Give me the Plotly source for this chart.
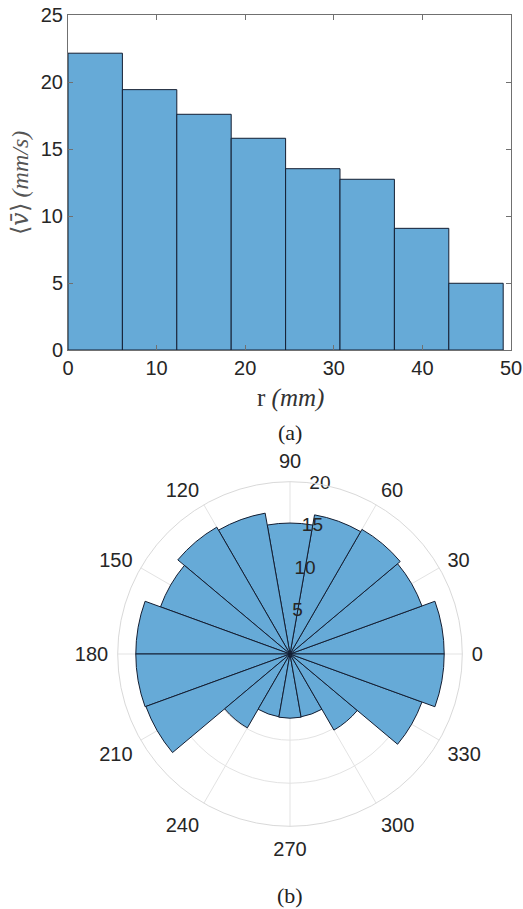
import plotly.graph_objects as go

# ---- data (a): radial profile of mean speed ----
r_bin_edges = [0, 6.14, 12.28, 18.42, 24.56, 30.70, 36.84, 42.98, 49.12]
v_mean = [22.15, 19.43, 17.59, 15.80, 13.53, 12.74, 9.08, 4.98]

# ---- data (b): polar histogram of mean speed vs direction ----
theta_centers = [10, 30, 50, 70, 90, 110, 130, 150, 170,
                 190, 210, 230, 250, 270, 290, 310, 330, 350]
v_dir = [17.9, 16.3, 16.7, 16.4, 15.2, 16.6, 17.0, 16.0, 17.9,
         17.9, 17.8, 9.9, 7.4, 7.45, 7.4, 10.2, 16.3, 17.9]
theta_bin_width = 20

x_ticks = [0, 10, 20, 30, 40, 50]
y_ticks = [0, 5, 10, 15, 20, 25]
ang_ticks = list(range(0, 360, 30))
r_ticks = [5, 10, 15, 20]
r_label_angle = 80

W, H = 523, 909
FACE = "rgb(102,170,215)"
EDGE = "rgb(20,30,50)"
TICKC = "#262626"
SANS = "Liberation Sans, Arial, sans-serif"
SERIF = "Liberation Serif, Times New Roman, serif"

centers = [(a + b) / 2 for a, b in zip(r_bin_edges[:-1], r_bin_edges[1:])]
widths = [b - a for a, b in zip(r_bin_edges[:-1], r_bin_edges[1:])]

fig = go.Figure()
fig.add_trace(go.Bar(
    x=centers, y=v_mean, width=widths,
    marker=dict(color=FACE, line=dict(color=EDGE, width=1)),
    xaxis="x", yaxis="y", showlegend=False, hoverinfo="skip",
))
fig.add_trace(go.Barpolar(
    r=v_dir, theta=theta_centers, width=[theta_bin_width] * len(v_dir),
    marker=dict(color=FACE, line=dict(color=EDGE, width=1)),
    subplot="polar", showlegend=False,
))
# radial tick labels, drawn as text at their radius along the 80 deg axis
fig.add_trace(go.Scatterpolar(
    r=r_ticks, theta=[r_label_angle] * len(r_ticks),
    text=[str(t) for t in r_ticks], mode="text",
    textfont=dict(family=SANS, size=19, color=TICKC),
    textposition="middle center",
    subplot="polar", showlegend=False, hoverinfo="skip", cliponaxis=False,
))

def px_x(p):
    return p / W

def px_y(p):
    return 1 - p / H

axis_common = dict(
    showline=True, linecolor="#707070", linewidth=1, mirror="ticks",
    ticks="inside", ticklen=5, tickcolor="#707070",
    showgrid=False, zeroline=False, automargin=False,
    tickfont=dict(family=SANS, size=20, color=TICKC),
)

def note(text, x, y, size, color, angle=0, family=SERIF):
    return dict(text=text, x=px_x(x), y=px_y(y), xref="paper", yref="paper",
                xanchor="center", yanchor="middle", textangle=angle,
                showarrow=False, font=dict(family=family, size=size, color=color))

fig.update_layout(
    width=W, height=H,
    margin=dict(l=0, r=0, t=0, b=0, autoexpand=False),
    paper_bgcolor="white", plot_bgcolor="white",
    xaxis=dict(domain=[px_x(68), px_x(511)], range=[0, 50],
               tickvals=x_ticks, anchor="y", **axis_common),
    yaxis=dict(domain=[px_y(350), px_y(15)], range=[0, 25],
               tickvals=y_ticks, anchor="x", **axis_common),
    polar=dict(
        domain=dict(x=[px_x(117.7), px_x(462.3)], y=[px_y(826.3), px_y(481.7)]),
        bgcolor="white",
        angularaxis=dict(
            rotation=0, direction="counterclockwise",
            tickvals=ang_ticks, ticktext=[str(t) for t in ang_ticks],
            showline=True, linecolor="#d9d9d9", linewidth=1,
            gridcolor="#e3e3e3", gridwidth=1,
            ticks="outside", ticklen=5, tickcolor="rgba(0,0,0,0)",
            tickfont=dict(family=SANS, size=20, color=TICKC),
        ),
        radialaxis=dict(
            range=[0, 20], angle=r_label_angle,
            tickvals=r_ticks, showticklabels=False,
            showline=False, ticks="", gridcolor="#e3e3e3", gridwidth=1,
        ),
    ),
    annotations=[
        note("r <i>(mm)</i>", 290, 398, 25, "#333333"),
        note("⟨<span style='font-family:DejaVu Serif'><i>v̄</i></span>⟩ <i>(mm/s)</i>",
             20, 183, 24, "#555555", angle=-90),
        note("(a)", 290, 432, 22, "#222222"),
        note("(b)", 290, 895, 22, "#222222"),
    ],
)

fig.write_html("out.html", config={"displayModeBar": False},
               post_script="document.body.style.margin='0px';")
